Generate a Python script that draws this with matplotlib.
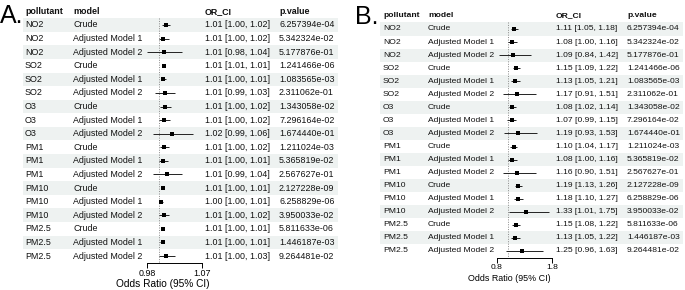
import matplotlib
matplotlib.use("Agg")
import matplotlib.pyplot as plt

# table rows: 6 pollutants x 3 models
pollutants = ["NO2", "SO2", "O3", "PM1", "PM10", "PM2.5"]
models = ["Crude", "Adjusted Model 1", "Adjusted Model 2"]

p_values = [
    6.257394e-04, 5.342324e-02, 5.177876e-01,
    1.241466e-06, 1.083565e-03, 2.311062e-01,
    1.343058e-02, 7.296164e-02, 1.674440e-01,
    1.211024e-03, 5.365819e-02, 2.567627e-01,
    2.127228e-09, 6.258829e-06, 3.950033e-02,
    5.811633e-06, 1.446187e-03, 9.264481e-02,
]

# panel A
or_a = [1.011, 1.006, 1.008, 1.008, 1.007, 1.009, 1.009, 1.008, 1.021,
        1.008, 1.006, 1.012, 1.006, 1.003, 1.008, 1.006, 1.006, 1.011]
lo_a = [1.004, 1.000, 0.980, 1.006, 1.003, 0.993, 1.002, 0.999, 0.990,
        1.002, 0.999, 0.989, 1.004, 1.002, 1.000, 1.004, 1.002, 0.999]
hi_a = [1.018, 1.016, 1.038, 1.010, 1.011, 1.026, 1.019, 1.017, 1.056,
        1.016, 1.014, 1.038, 1.007, 1.006, 1.016, 1.008, 1.008, 1.026]
ticks_a = [0.98, 1.07]

# panel B
or_b = [1.11, 1.08, 1.09, 1.15, 1.13, 1.17, 1.08, 1.07, 1.19,
        1.10, 1.08, 1.16, 1.19, 1.18, 1.33, 1.15, 1.13, 1.25]
lo_b = [1.05, 1.00, 0.84, 1.09, 1.05, 0.91, 1.02, 0.99, 0.93,
        1.04, 1.00, 0.90, 1.13, 1.10, 1.01, 1.08, 1.05, 0.96]
hi_b = [1.18, 1.16, 1.42, 1.22, 1.21, 1.51, 1.14, 1.15, 1.53,
        1.17, 1.16, 1.51, 1.26, 1.27, 1.75, 1.22, 1.22, 1.63]
ticks_b = [0.8, 1.8]

W, H = 685, 290
STRIPE = "#eef2f1"
INK = "#111111"

plt.rcParams["font.family"] = ["Liberation Sans", "DejaVu Sans"]
fig = plt.figure(figsize=(W / 100, H / 100), dpi=100)


def px_rect(x0, y0, x1, y1):
    return [x0 / W, 1 - y1 / H, (x1 - x0) / W, (y1 - y0) / H]


def draw_panel(letter, lay, est, lo, hi, ticks):
    rows_p = [p for p in pollutants for _ in models]
    rows_m = [m for _ in pollutants for m in models]
    n = len(rows_p)
    fs = lay["fs"]
    x0, x1 = lay["table"]

    ax = fig.add_axes(px_rect(x0, lay["top"], x1, lay["bottom"]))
    ax.set_xlim(0, 1)
    ax.set_ylim(n - 0.5, -1.5)
    ax.axis("off")
    for i in range(0, n, 2):
        ax.axhspan(i - 0.5, i + 0.5, color=STRIPE, lw=0, zorder=0)

    def fx(px):
        return (px - x0) / (x1 - x0)

    headers = [("pollutant", "pol"), ("model", "mod"), ("OR_CI", "or"), ("p.value", "p")]
    for txt, key in headers:
        ax.text(fx(lay[key]), -1, txt, fontsize=fs, fontweight="bold",
                va="center", ha="left", color=INK)
    for i in range(n):
        ax.text(fx(lay["pol"]), i, rows_p[i], fontsize=fs, va="center", color=INK)
        ax.text(fx(lay["mod"]), i, rows_m[i], fontsize=fs, va="center", color=INK)
        ax.text(fx(lay["or"]), i, f"{est[i]:.2f} [{lo[i]:.2f}, {hi[i]:.2f}]",
                fontsize=fs, va="center", color=INK)
        ax.text(fx(lay["p"]), i, f"{p_values[i]:.6e}", fontsize=fs, va="center",
                color=INK)

    f0, f1 = lay["forest"]
    axf = fig.add_axes(px_rect(f0, lay["top"], f1, lay["bottom"]))
    axf.set_facecolor("none")
    axf.set_xlim(ticks[0], ticks[-1])
    axf.set_ylim(n - 0.5, -1.5)
    for side in ("left", "top", "right"):
        axf.spines[side].set_visible(False)
    axf.spines["bottom"].set_linewidth(0.7)
    axf.set_yticks([])
    axf.set_xticks(ticks)
    axf.set_xticklabels([f"{t:g}" for t in ticks])
    axf.tick_params(axis="x", length=3.6, width=0.7, pad=0.8, labelsize=fs)
    axf.vlines(1, -0.5, n - 0.5, colors="#888888", linestyles=(0, (1, 1.5)), lw=0.7)
    ys = list(range(n))
    axf.hlines(ys, lo, hi, colors="#222222", lw=0.7)
    axf.plot(est, ys, "s", ms=2.4, color="black", mew=0)

    fig.text(lay["letter"][0] / W, 1 - lay["letter"][1] / H, letter,
             fontsize=18, va="baseline", ha="left")
    fig.text(lay["xlab"][0] / W, 1 - lay["xlab"][1] / H, "Odds Ratio (95% CI)",
             fontsize=lay["xlab_fs"], ha="center", va="center")


layout_a = dict(table=(23, 338), top=4.6, bottom=262.8, pol=25, mod=73,
                forest=(147, 202), **{"or": 205}, p=279, fs=6.4,
                letter=(0, 23), xlab=(163, 284), xlab_fs=7.3)
layout_b = dict(table=(380, 683), top=9.4, bottom=257.5, pol=383, mod=428,
                forest=(497, 552), **{"or": 556}, p=627, fs=6.1,
                letter=(355, 24), xlab=(509, 278.5), xlab_fs=6.4)

draw_panel("A.", layout_a, or_a, lo_a, hi_a, ticks_a)
draw_panel("B.", layout_b, or_b, lo_b, hi_b, ticks_b)

fig.savefig("out.png", dpi=100)
